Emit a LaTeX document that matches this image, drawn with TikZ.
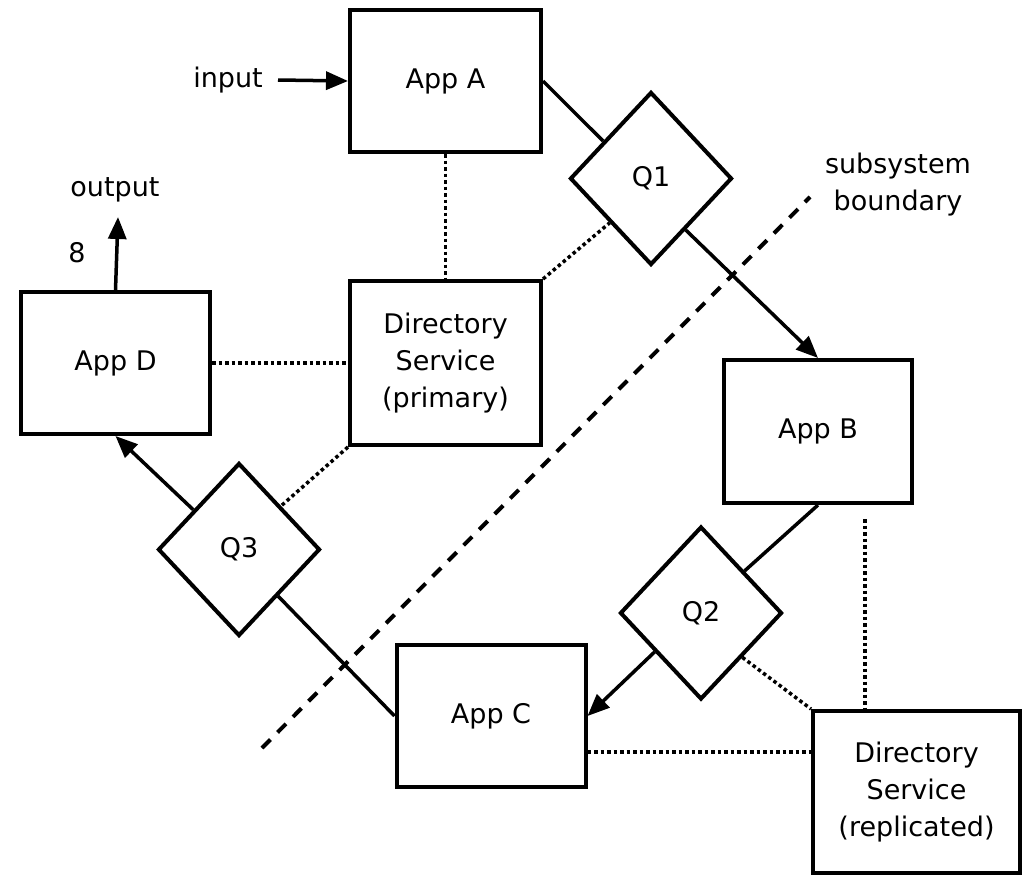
\documentclass[tikz,border=0pt]{standalone}
\usepackage{fontspec}
\setmainfont{DejaVu Sans}
\usetikzlibrary{shapes.geometric,arrows.meta}

\tikzset{
  box/.style={draw, line width=4pt, inner sep=0pt, align=center},
  queue/.style={draw, diamond, line width=4pt, inner sep=0pt,
                minimum width=162pt, minimum height=173pt},
  flow/.style={line width=3.5pt},
  flowarrow/.style={line width=3.5pt, -{Triangle[length=22pt,width=18pt]}},
  lookup/.style={line width=3.5pt, dash pattern=on 3.5pt off 3pt},
  boundary/.style={line width=4pt, dash pattern=on 12pt off 10pt},
  lbl/.style={inner sep=0pt, align=center}
}

\begin{document}
\begin{tikzpicture}[x=1pt, y=-1pt,
  every node/.append style={font=\fontsize{27}{37}\selectfont}]
  \useasboundingbox (0,0) rectangle (1028,875);

  % applications and directory services
  \node[box, minimum width=191pt, minimum height=142pt] (AppA) at (445.5,81) {App A};
  \node[box, minimum width=191pt, minimum height=164pt] (DSP) at (445.5,363)
       {Directory\\Service\\(primary)};
  \node[box, minimum width=189pt, minimum height=142pt] (AppD) at (115.5,363) {App D};
  \node[box, minimum width=188pt, minimum height=143pt] (AppB) at (818,431.5) {App B};
  \node[box, minimum width=189pt, minimum height=142pt] (AppC) at (491,716) {App C};
  \node[box, minimum width=207pt, minimum height=162pt] (DSR) at (916.5,792)
       {Directory\\Service\\(replicated)};

  % queues
  \node[queue] (Q1) at (651,178.5) {Q1};
  \node[queue] (Q2) at (701,613) {Q2};
  \node[queue] (Q3) at (239,549.5) {Q3};

  % labels
  \node[lbl, anchor=east] (inputlbl) at (263,80) {input};
  \node[lbl] (outputlbl) at (115,190) {output};
  \node[lbl] (eight) at (77,253) {8};
  \node[lbl] (bdlbl) at (898,185) {subsystem\\boundary};

  \coordinate (inputtail) at (278,80);
  \coordinate (outtip) at (118,217);
  \coordinate (bdlow) at (262,748);
  \coordinate (bdhigh) at (810,197);

  % subsystem boundary
  \draw[boundary] (bdlow) -- (bdhigh);

  % message flow
  \draw[flowarrow] (inputtail) -- (AppA.west);
  \draw[flow] (AppA.east) -- (Q1.142);
  \draw[flowarrow] (Q1.304) -- (AppB.north);
  \draw[flow] (AppB.south) -- (Q2.44);
  \draw[flowarrow] (Q2.220) -- (AppC.east);
  \draw[flow] (AppC.west) -- (Q3.310);
  \draw[flowarrow] (Q3.139) -- (AppD.south);
  \draw[flowarrow] (AppD.north) -- (outtip);

  % directory lookups
  \draw[lookup] (AppA.south) -- (DSP.north);
  \draw[lookup] (AppD.east) -- (DSP.west);
  \draw[lookup] (DSP.north east) -- (Q1.227);
  \draw[lookup] (DSP.south west) -- (Q3.46);
  \draw[lookup] (Q2.313) -- (DSR.north west);
  \draw[lookup] ([xshift=47pt,yshift=-14pt]AppB.south) -- ([xshift=-51.5pt]DSR.north);
  \draw[lookup] ([yshift=-36pt]AppC.east) -- ([yshift=-36pt]AppC.east -| DSR.west);
\end{tikzpicture}
\end{document}
